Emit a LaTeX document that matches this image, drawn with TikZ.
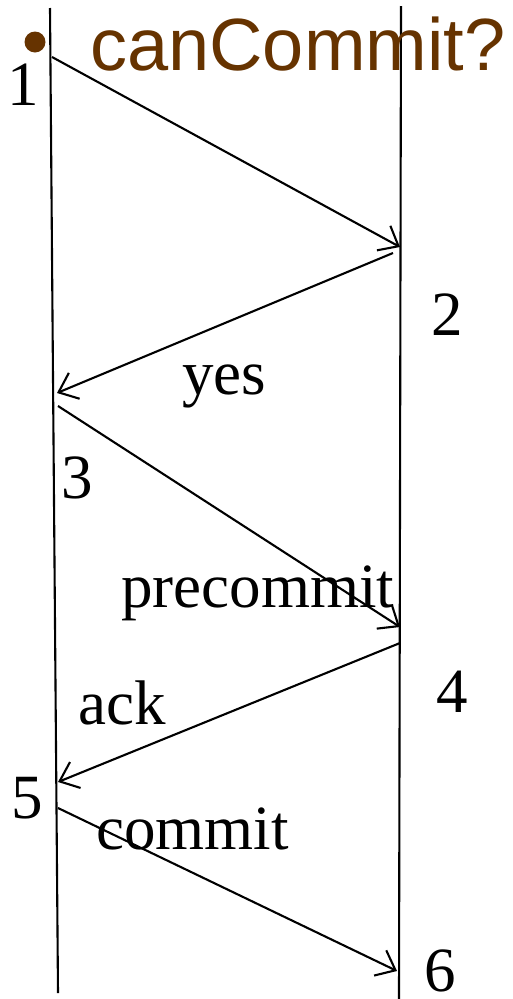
\documentclass[tikz,border=0pt]{standalone}
\usepackage{fontspec}
\setmainfont{Liberation Serif}
\newfontfamily\arialfont{Liberation Sans}
\usetikzlibrary{arrows.meta}
\definecolor{brownc}{RGB}{102,51,0}
\tikzset{
  life/.style={line width=2.1pt},
  msg/.style={line width=2.1pt,-{Straight Barb[length=17pt,width=28pt,line width=2.1pt]}},
  lbl/.style={inner sep=0pt,anchor=base,font=\fontsize{63}{70}\selectfont},
  lblw/.style={inner sep=0pt,anchor=base west,font=\fontsize{63}{70}\selectfont}
}
\begin{document}
\begin{tikzpicture}[x=1pt,y=-1pt]
\useasboundingbox (0,0) rectangle (513,999);
% lifelines
\coordinate (LT) at (50,8);
\coordinate (LB) at (58,993);
\coordinate (RT) at (401,6);
\coordinate (RB) at (399,999);
\draw[life] (LT) -- (LB);
\draw[life] (RT) -- (RB);
% message endpoints
\coordinate (a1) at (52,57);
\coordinate (b1) at (400,247);
\coordinate (a2) at (393,253);
\coordinate (b2) at (57,393);
\coordinate (a3) at (58,406);
\coordinate (b3) at (400,627);
\coordinate (a4) at (400,643);
\coordinate (b4) at (58,782);
\coordinate (a5) at (58,808);
\coordinate (b5) at (397,971);
\draw[msg] (a1) -- (b1);
\draw[msg] (a2) -- (b2);
\draw[msg] (a3) -- (b3);
\draw[msg] (a4) -- (b4);
\draw[msg] (a5) -- (b5);
% bullet and title
\fill[brownc] (35,42) circle (10.5) coordinate (bul);
\node[inner sep=0pt,anchor=base west,text=brownc,font=\arialfont\fontsize{74}{80}\selectfont] (title) at (90,70) {canCommit?};
% labels
\node[lbl] (n1) at (23,105) {1};
\node[lbl] (n2) at (447,335) {2};
\node[lbl] (n3) at (77,498) {3};
\node[lbl] (n4) at (452,712) {4};
\node[lbl] (n5) at (27,818) {5};
\node[lbl] (n6) at (440,991) {6};
\node[lblw] (yes) at (182,394) {yes};
\node[lblw] (pre) at (121,607) {precommit};
\node[lblw] (ack) at (78,724) {ack};
\node[lblw] (com) at (96,849) {commit};
\end{tikzpicture}
\end{document}
